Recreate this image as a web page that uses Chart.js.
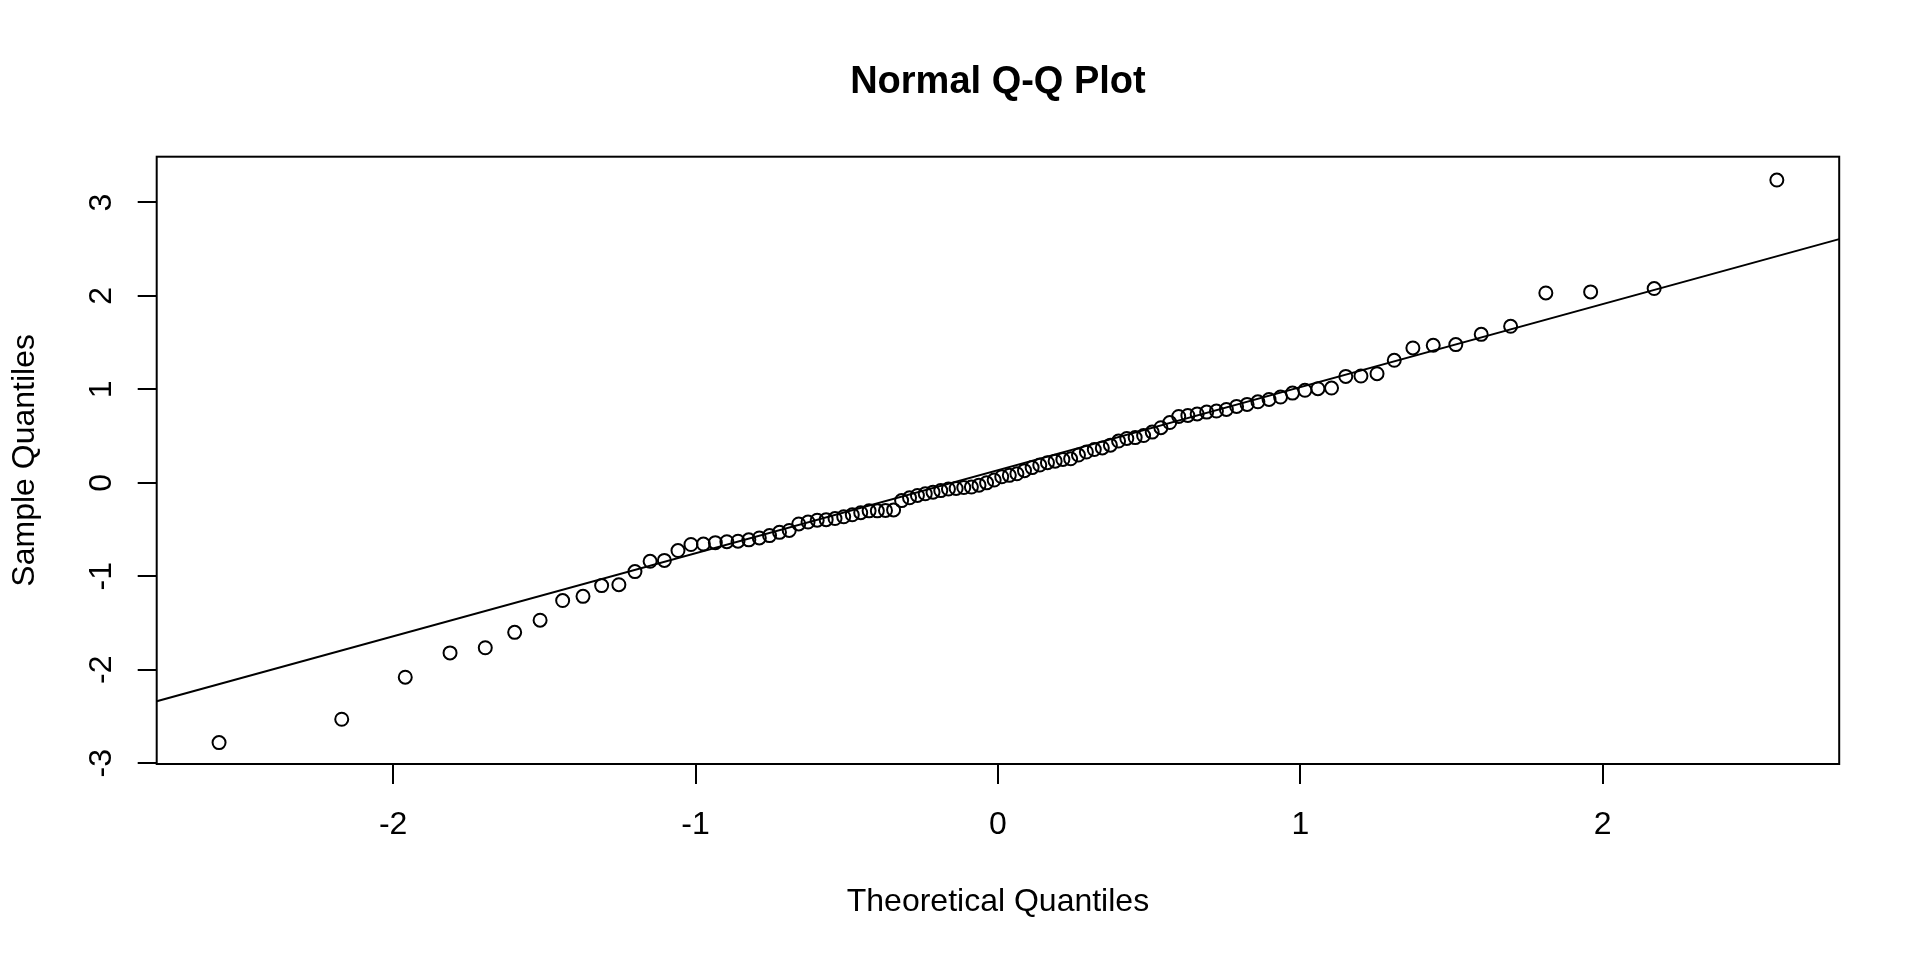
<!DOCTYPE html>
<html>
<head>
<meta charset="utf-8">
<script src="https://cdn.jsdelivr.net/npm/chart.js@4.4.1/dist/chart.umd.min.js"></script>
<style>
html,body{margin:0;padding:0;background:#fff;}
#wrap{width:1920px;height:960px;position:relative;}
</style>
</head>
<body>
<div id="wrap"><canvas id="c" width="1920" height="960"></canvas></div>
<script>
// Theoretical quantiles (x) of the 100 points
const theoreticalQ = [
 -2.5758,-2.1701,-1.9600,-1.8119,-1.6954,-1.5982,-1.5141,-1.4395,-1.3722,-1.3106,
 -1.2536,-1.2004,-1.1503,-1.1031,-1.0581,-1.0152,-0.9741,-0.9346,-0.8965,-0.8596,
 -0.8239,-0.7892,-0.7554,-0.7225,-0.6903,-0.6588,-0.6280,-0.5978,-0.5681,-0.5388,
 -0.5101,-0.4817,-0.4538,-0.4261,-0.3989,-0.3719,-0.3451,-0.3186,-0.2924,-0.2663,
 -0.2404,-0.2147,-0.1891,-0.1637,-0.1383,-0.1130,-0.0878,-0.0627,-0.0376,-0.0125,
  0.0125, 0.0376, 0.0627, 0.0878, 0.1130, 0.1383, 0.1637, 0.1891, 0.2147, 0.2404,
  0.2663, 0.2924, 0.3186, 0.3451, 0.3719, 0.3989, 0.4261, 0.4538, 0.4817, 0.5101,
  0.5388, 0.5681, 0.5978, 0.6280, 0.6588, 0.6903, 0.7225, 0.7554, 0.7892, 0.8239,
  0.8596, 0.8965, 0.9346, 0.9741, 1.0152, 1.0581, 1.1031, 1.1503, 1.2004, 1.2536,
  1.3106, 1.3722, 1.4395, 1.5141, 1.5982, 1.6954, 1.8119, 1.9600, 2.1701, 2.5758
];
// Sample quantiles (y)
const sampleQ = [
 -2.78,-2.53,-2.08,-1.82,-1.765,-1.60,-1.47,-1.26,-1.215,-1.10,
 -1.09,-0.95,-0.84,-0.83,-0.725,-0.66,-0.655,-0.64,-0.63,-0.625,
 -0.61,-0.59,-0.565,-0.53,-0.51,-0.44,-0.42,-0.40,-0.394,-0.382,
 -0.363,-0.342,-0.32,-0.30,-0.30,-0.295,-0.29,-0.19,-0.16,-0.135,
 -0.117,-0.10,-0.083,-0.066,-0.06,-0.05,-0.045,-0.025,0.0,0.03,
  0.065,0.08,0.097,0.13,0.163,0.19,0.215,0.232,0.25,0.257,
  0.297,0.33,0.356,0.373,0.403,0.447,0.475,0.484,0.506,0.543,
  0.59,0.645,0.71,0.721,0.737,0.757,0.768,0.785,0.818,0.839,
  0.867,0.892,0.918,0.96,0.99,1.007,1.014,1.139,1.143,1.168,
  1.311,1.443,1.472,1.479,1.589,1.675,2.032,2.043,2.079,3.24
];
// Reference line (qqline) end points, read at the plot edges
const lineX = [-2.782, 2.782];
const lineY = [-2.338, 2.608];
// Axis ranges and ticks
const xRange = [-2.782, 2.782];
const yRange = [-3.009, 3.49];
const xTicks = [-2, -1, 0, 1, 2];
const yTicks = [-3, -2, -1, 0, 1, 2, 3];
const titleText = 'Normal Q-Q Plot';
const xTitle = 'Theoretical Quantiles';
const yTitle = 'Sample Quantiles';

const FONT = '"Liberation Sans", Arial, Helvetica, sans-serif';

const pointData = theoreticalQ.map((x, i) => ({x: x, y: sampleQ[i]}));
const lineData = lineX.map((x, i) => ({x: x, y: lineY[i]}));

const decorations = {
  id: 'decorations',
  afterDraw(chart) {
    const ctx = chart.ctx;
    const a = chart.chartArea;
    const xs = chart.scales.x;
    const ys = chart.scales.y;
    ctx.save();
    // box
    ctx.strokeStyle = '#000';
    ctx.lineWidth = 2;
    ctx.strokeRect(a.left, a.top, a.right - a.left, a.bottom - a.top);
    ctx.fillStyle = '#000';
    ctx.textAlign = 'center';
    ctx.textBaseline = 'alphabetic';
    ctx.font = '32px ' + FONT;
    // x tick labels
    xs.ticks.forEach(t => {
      ctx.fillText(String(t.value), xs.getPixelForValue(t.value), 834);
    });
    // y tick labels (rotated, reading upward)
    ys.ticks.forEach(t => {
      const py = ys.getPixelForValue(t.value);
      ctx.save();
      ctx.translate(111, py);
      ctx.rotate(-Math.PI / 2);
      ctx.fillText(String(t.value), 0, 0);
      ctx.restore();
    });
    // y axis title
    ctx.save();
    ctx.translate(34, (a.top + a.bottom) / 2);
    ctx.rotate(-Math.PI / 2);
    ctx.fillText(yTitle, 0, 0);
    ctx.restore();
    // x axis title
    const cx = (a.left + a.right) / 2;
    ctx.fillText(xTitle, cx, 911);
    // main title
    ctx.font = 'bold 38px ' + FONT;
    ctx.fillText(titleText, cx, 93);
    ctx.restore();
  }
};

new Chart(document.getElementById('c'), {
  type: 'scatter',
  data: {
    datasets: [
      {
        label: 'sample',
        data: pointData,
        showLine: false,
        pointStyle: 'circle',
        pointRadius: 6.5,
        pointHoverRadius: 6.5,
        pointBorderWidth: 2,
        pointBorderColor: '#000',
        pointBackgroundColor: 'rgba(0,0,0,0)',
        order: 1
      },
      {
        label: 'qqline',
        data: lineData,
        showLine: true,
        borderColor: '#000',
        borderWidth: 2,
        pointRadius: 0,
        fill: false,
        order: 2
      }
    ]
  },
  options: {
    responsive: false,
    devicePixelRatio: 1,
    animation: false,
    events: [],
    layout: { padding: { left: 0, right: 80.8, top: 156.7, bottom: 0 } },
    plugins: {
      legend: { display: false },
      tooltip: { enabled: false },
      title: { display: false }
    },
    scales: {
      x: {
        type: 'linear',
        position: 'bottom',
        min: xRange[0],
        max: xRange[1],
        afterBuildTicks: s => { s.ticks = xTicks.map(v => ({value: v})); },
        afterFit: s => { s.height = 196; },
        border: { display: false },
        grid: { drawOnChartArea: false, drawTicks: true, tickLength: 20, color: '#000', lineWidth: 2 },
        ticks: {
          color: 'rgba(0,0,0,0)',
          font: { family: FONT, size: 32 },
          maxRotation: 0,
          minRotation: 0,
          callback: v => String(v)
        }
      },
      y: {
        type: 'linear',
        position: 'left',
        min: yRange[0],
        max: yRange[1],
        afterBuildTicks: s => { s.ticks = yTicks.map(v => ({value: v})); },
        afterFit: s => { s.width = 156.7; },
        border: { display: false },
        grid: { drawOnChartArea: false, drawTicks: true, tickLength: 19, color: '#000', lineWidth: 2 },
        ticks: {
          color: 'rgba(0,0,0,0)',
          font: { family: FONT, size: 32 },
          callback: v => String(v)
        }
      }
    }
  },
  plugins: [decorations]
});
</script>
</body>
</html>
